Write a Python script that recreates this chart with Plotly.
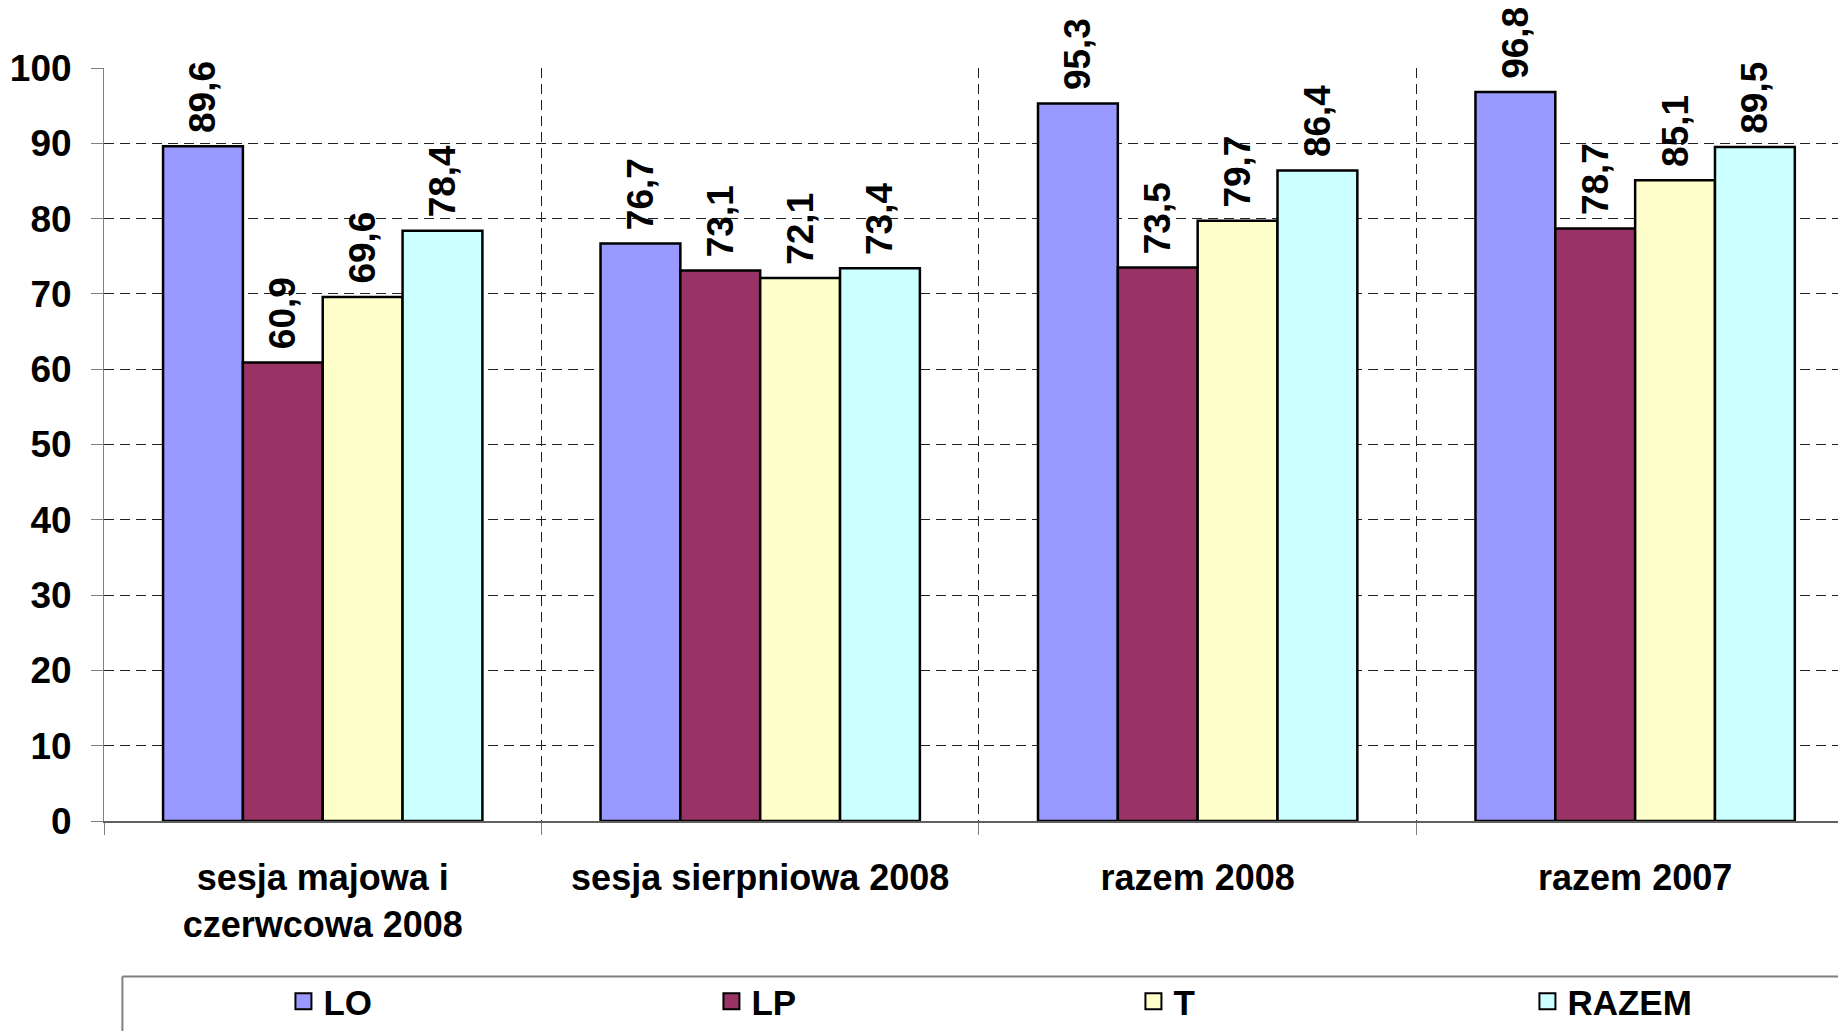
import plotly.graph_objects as go

# categories and series (percent)
categories = [
    "sesja majowa i<br>czerwcowa 2008",
    "sesja sierpniowa 2008",
    "razem 2008",
    "razem 2007",
]
series_names = ["LO", "LP", "T", "RAZEM"]
lo = [89.6, 76.7, 95.3, 96.8]
lp = [60.9, 73.1, 73.5, 78.7]
t = [69.6, 72.1, 79.7, 85.1]
razem = [78.4, 73.4, 86.4, 89.5]
y_ticks = [0, 10, 20, 30, 40, 50, 60, 70, 80, 90, 100]

colors = ["#9999FF", "#993366", "#FFFFCC", "#CCFFFF"]
legend_widths = [383, 377, 349, 160]
FONT = "Liberation Sans, Arial, sans-serif"

fig = go.Figure()

for name, vals, col, lw in zip(series_names, [lo, lp, t, razem], colors, legend_widths):
    fig.add_trace(go.Bar(
        x=categories,
        y=vals,
        name=name,
        marker=dict(color=col, line=dict(color="black", width=2.5)),
        texttemplate="\u00a0%{y:.1f}",
        textposition="outside",
        textangle=-90,
        constraintext="none",
        cliponaxis=False,
        textfont=dict(family=FONT, size=37, color="black", weight="bold"),
        showlegend=False,
    ))
    # legend-only entry so the legend square can be bigger
    fig.add_trace(go.Scatter(
        x=[None], y=[None],
        mode="markers",
        name=name,
        legendwidth=lw,
        marker=dict(symbol="square", size=16, color=col,
                    line=dict(color="black", width=2)),
    ))

# the page adds an 8px body margin, so the figure is 8px smaller
fig.update_layout(
    width=1838,
    height=1023,
    margin=dict(l=96, r=0, t=60, b=210),
    plot_bgcolor="white",
    paper_bgcolor="white",
    barmode="group",
    bargap=0.27,
    bargroupgap=0,
    separators=", ",
    font=dict(family=FONT, color="black"),
    legend=dict(
        orientation="h",
        x=0.103, xanchor="left",
        y=-0.2789, yanchor="bottom",
        font=dict(family=FONT, size=35, color="black", weight="bold"),
        bgcolor="rgba(0,0,0,0)",
        borderwidth=0,
    ),
    shapes=[
        # legend frame (runs off the right and bottom edges)
        dict(type="line", xref="paper", yref="paper",
             x0=0.01056, x1=1.05, y0=-0.2064, y1=-0.2064,
             line=dict(color="#808080", width=2)),
        dict(type="line", xref="paper", yref="paper",
             x0=0.01056, x1=0.01056, y0=-0.2064, y1=-0.35,
             line=dict(color="#808080", width=2)),
    ],
)

fig.update_xaxes(
    type="category",
    range=[-0.5, 3.482],
    tickson="boundaries",
    ticks="outside",
    ticklen=12,
    tickcolor="#808080",
    showline=True,
    linecolor="#606060",
    linewidth=2,
    showgrid=True,
    gridcolor="#222222",
    griddash="10px,6px",
    gridwidth=1,
    ticklabelstandoff=24,
    tickfont=dict(family=FONT, size=36, color="black", weight="bold"),
)

fig.update_yaxes(
    range=[0, 100],
    tickvals=y_ticks,
    ticks="outside",
    ticklen=12,
    tickcolor="#808080",
    showline=True,
    linecolor="#808080",
    linewidth=1,
    showgrid=True,
    gridcolor="#222222",
    griddash="10px,6px",
    gridwidth=1,
    zeroline=False,
    ticklabelstandoff=12,
    tickfont=dict(family=FONT, size=37, color="black", weight="bold"),
)

fig.write_html("out.html")
